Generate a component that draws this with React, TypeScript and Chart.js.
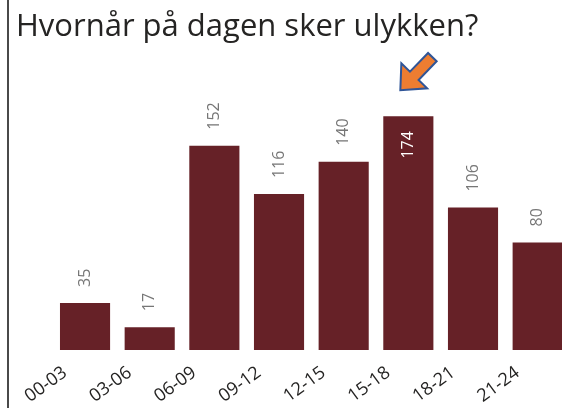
import React, { useEffect, useRef } from "react";
import { Chart, registerables } from "chart.js";

Chart.register(...registerables);

const TITLE = "Hvornår på dagen sker ulykken?";
const CATEGORIES = ["00-03", "03-06", "06-09", "09-12", "12-15", "15-18", "18-21", "21-24"];
const VALUES = [35, 17, 152, 116, 140, 174, 106, 80];
const HIGHLIGHT_INDEX = 5;

const BAR_COLOR = "#662127";
const FONT = "'Open Sans', 'Noto Sans', sans-serif";

const dataLabelPlugin = {
  id: "dataLabels",
  afterDatasetsDraw(chart: any) {
    const ctx = chart.ctx;
    const meta = chart.getDatasetMeta(0);
    const area = chart.chartArea;
    ctx.save();
    ctx.font = `16px ${FONT}`;
    ctx.textBaseline = "middle";
    meta.data.forEach((bar: any, i: number) => {
      const text = String(chart.data.datasets[0].data[i]);
      const w = ctx.measureText(text).width;
      const outsideStart = bar.y - 16;
      ctx.save();
      if (outsideStart - w < area.top) {
        ctx.translate(bar.x, bar.y + 15);
        ctx.rotate(-Math.PI / 2);
        ctx.textAlign = "right";
        ctx.fillStyle = "#ffffff";
      } else {
        ctx.translate(bar.x, outsideStart);
        ctx.rotate(-Math.PI / 2);
        ctx.textAlign = "left";
        ctx.fillStyle = "#767676";
      }
      ctx.fillText(text, 0, 0);
      ctx.restore();
    });
    ctx.restore();
  },
};

const arrowPlugin = {
  id: "arrow",
  afterDraw(chart: any) {
    const meta = chart.getDatasetMeta(0);
    const bar = meta.data[HIGHLIGHT_INDEX];
    if (!bar) return;
    const ctx = chart.ctx;
    const tipX = bar.x - 8;
    const tipY = bar.y - 26;
    const ang = Math.atan2(-33, 32); // direction tip -> tail
    const pts: [number, number][] = [
      [0, 0],
      [20, -18],
      [20, -6],
      [46, -6],
      [46, 6],
      [20, 6],
      [20, 18],
    ];
    ctx.save();
    ctx.translate(tipX, tipY);
    ctx.rotate(ang);
    ctx.beginPath();
    pts.forEach(([u, v], i) => (i === 0 ? ctx.moveTo(u, v) : ctx.lineTo(u, v)));
    ctx.closePath();
    ctx.fillStyle = "#ED7D31";
    ctx.fill();
    ctx.lineWidth = 2;
    ctx.lineJoin = "miter";
    ctx.strokeStyle = "#2F5597";
    ctx.stroke();
    ctx.restore();
  },
};

export default function App() {
  const ref = useRef<HTMLCanvasElement | null>(null);

  useEffect(() => {
    if (!ref.current) return;
    const chart = new Chart(ref.current, {
      type: "bar",
      data: {
        labels: CATEGORIES,
        datasets: [
          {
            data: VALUES,
            backgroundColor: BAR_COLOR,
            barPercentage: 0.775,
            categoryPercentage: 1,
          },
        ],
      },
      options: {
        responsive: false,
        animation: false,
        layout: { padding: { left: 16, right: 0, top: 0, bottom: 0 } },
        plugins: {
          legend: { display: false },
          tooltip: { enabled: false },
          title: {
            display: true,
            text: TITLE,
            align: "start",
            color: "#252423",
            font: { family: FONT, size: 31, weight: "normal", lineHeight: 1.2 },
            padding: { top: 9, bottom: 35 },
          },
        },
        scales: {
          x: {
            grid: { display: false, drawTicks: false },
            border: { display: false },
            ticks: {
              color: "#252423",
              font: { family: FONT, size: 18 },
              minRotation: 36,
              maxRotation: 36,
              padding: 12,
              labelOffset: -20,
              autoSkip: false,
            },
            afterFit: (s: any) => {
              s.height = 58;
            },
          },
          y: {
            min: 0,
            max: 200,
            grid: { display: false, drawTicks: false },
            border: { display: false },
            ticks: { display: false },
            afterFit: (s: any) => {
              s.width = 36.7;
            },
          },
        },
      },
      plugins: [dataLabelPlugin, arrowPlugin],
    });
    return () => chart.destroy();
  }, []);

  return (
    <div
      style={{
        position: "fixed",
        left: 0,
        top: 0,
        width: 562,
        height: 408,
        overflow: "hidden",
        background: "#ffffff",
      }}
    >
      <div
        style={{
          position: "absolute",
          left: 7,
          top: 0,
          width: 2,
          height: 408,
          background: "#4a4a4a",
        }}
      />
      <canvas
        ref={ref}
        width={570}
        height={408}
        style={{ position: "absolute", left: 0, top: 0, width: 570, height: 408 }}
      />
    </div>
  );
}
